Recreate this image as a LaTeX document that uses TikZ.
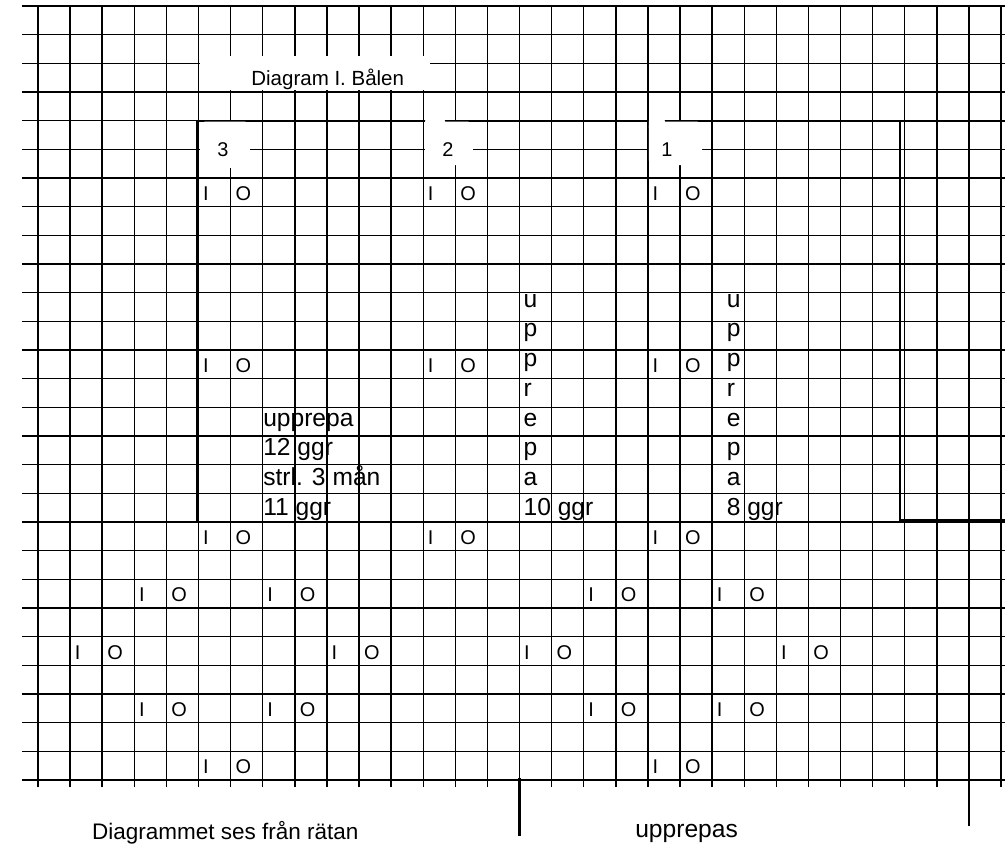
\documentclass[tikz,border=0pt]{standalone}
\usepackage{fontspec}
\setmainfont{Liberation Sans}

\begin{document}
\begin{tikzpicture}[x=0.963cm,y=0.8601cm,
    gridline/.style={line width=1.2pt},
    chartframe/.style={line width=1.8pt},
    repmark/.style={line width=2.4pt},
    whitepatch/.style={fill=white,rounded corners=4pt},
    stitch/.style={anchor=base west,inner sep=0pt,font=\fontsize{17}{17}\selectfont},
    boxnote/.style={anchor=base west,inner sep=0pt,font=\fontsize{21}{21}\selectfont},
    titletext/.style={anchor=base west,inner sep=0pt,font=\fontsize{17.5}{17.5}\selectfont},
    caption/.style={anchor=base west,inner sep=0pt,font=\fontsize{21}{21}\selectfont}]
  \path[use as bounding box,fill=white] (-1.1838,-2.2672) rectangle (30.1246,27.2061);

  \foreach \j in {0,...,27} \draw[gridline] (-0.5,\j) -- (30.2,\j);
  \foreach \i in {0,...,30} \draw[gridline] (\i,-0.25) -- (\i,27);

  % frame round the part that is repeated
  \draw[chartframe] (4.94,23) rectangle (26.85,9);
  \draw[chartframe] (26.85,23) -- (30.2,23);
  \draw[chartframe] (26.85,9.07) -- (30.2,9.07);

  \fill[white] (5.06,24.06) rectangle (12.21,25.24);
  \fill[whitepatch] (5.05,21.35) rectangle (6.60,22.96);
  \fill[whitepatch] (12.06,21.45) rectangle (13.55,22.96);
  \fill[whitepatch] (12.06,22.6) rectangle (12.68,23.15);
  \fill[whitepatch] (19.03,21.45) rectangle (20.69,22.96);
  \fill[whitepatch] (19.03,22.6) rectangle (19.53,23.15);

  \node[titletext] (title) at (6.64,24.24) {Diagram I. Bålen};
  \node[stitch] (rep3) at (5.58,21.73) {3};
  \node[stitch] (rep2) at (12.59,21.73) {2};
  \node[stitch] (rep1) at (19.41,21.73) {1};

  \foreach \c/\r [count=\k] in {5/20,12/20,19/20,5/14,12/14,19/14,5/8,12/8,19/8,
      3/6,7/6,17/6,21/6,1/4,9/4,15/4,23/4,3/2,7/2,17/2,21/2,5/0,19/0}
  {
    \node[stitch] (in\k) at (\c+0.14,\r+0.22) {I};
    \node[stitch] (out\k) at (\c+1.15,\r+0.22) {O};
  }

  \foreach \t [count=\k from 4] in {upprepa,12 ggr,strl. 3 mån,11 ggr}
    \node[boxnote] (left\k) at (7.01,16.49-1.036*\k) {\t};
  \foreach \t [count=\k from 0] in {u,p,p,r,e,p,a,10 ggr}
    \node[boxnote] (mid\k) at (15.12,16.49-1.036*\k) {\t};
  \foreach \t [count=\k from 0] in {u,p,p,r,e,p,a,8 ggr}
    \node[boxnote] (right\k) at (21.45,16.49-1.036*\k) {\t};

  \draw[repmark] (15,0.07) -- (15,-1.95);
  \draw[repmark] (29,0) -- (29,-1.60);
  \node[caption] (upprepas) at (18.6,-1.99) {upprepas};
  \node[caption,font=\fontsize{19.2}{19.2}\selectfont] (seen) at (1.68,-2.08) {Diagrammet ses från rätan};
\end{tikzpicture}
\end{document}
